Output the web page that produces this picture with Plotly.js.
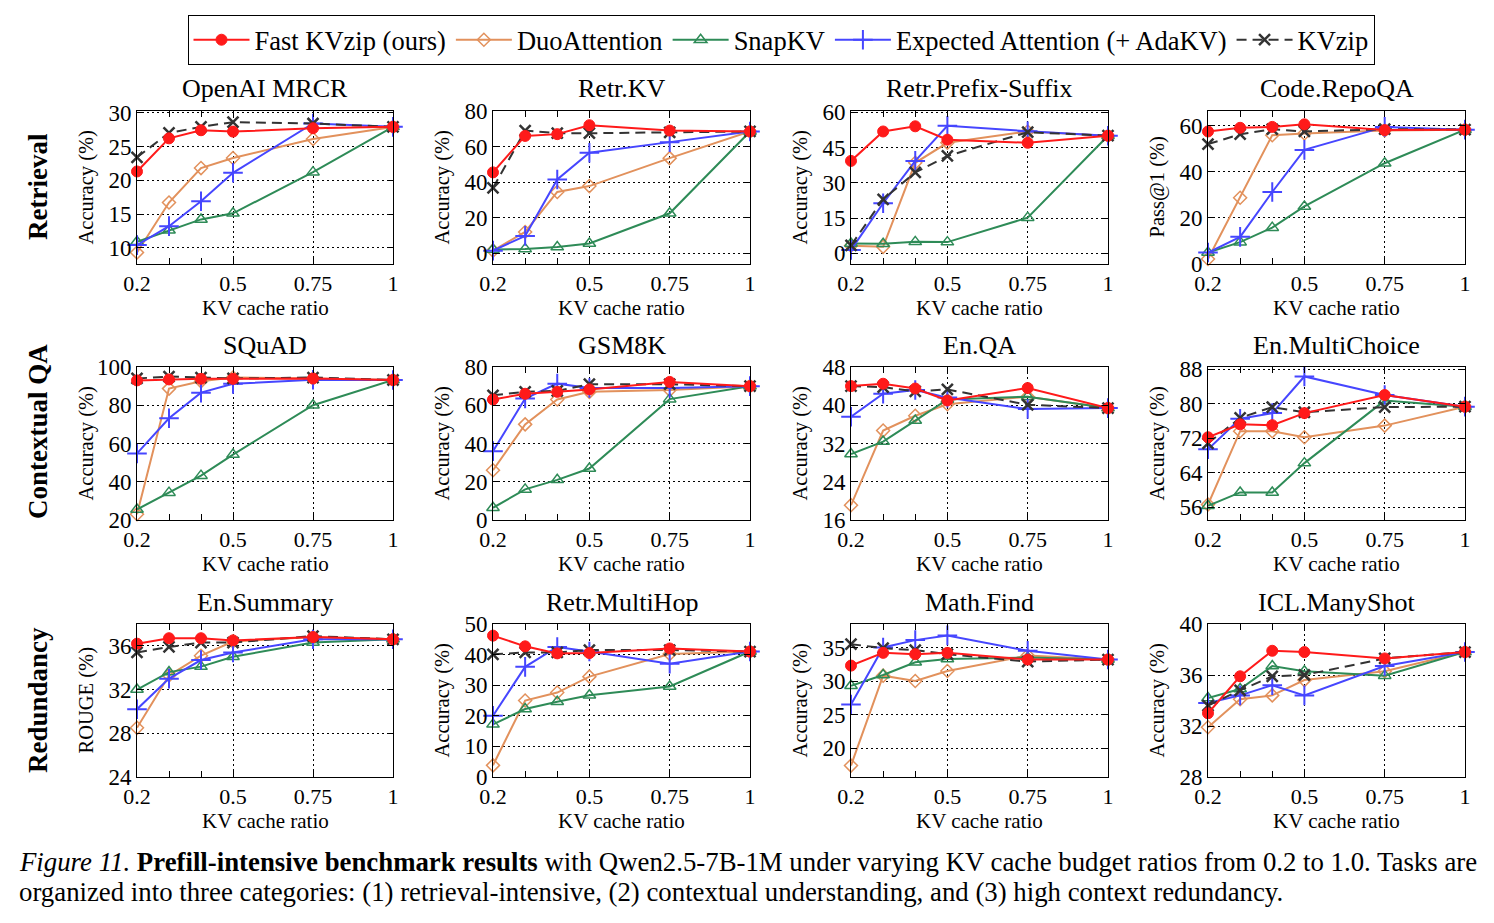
<!DOCTYPE html>
<html>
<head>
<meta charset="utf-8">
<script src="https://cdn.plot.ly/plotly-3.0.1.min.js"></script>
<style>html,body{margin:0;padding:0;background:#fff;}#chart{width:1494px;height:923px;}</style>
</head>
<body>
<div id="chart"></div>
<script>
// ---- data ----
const ratios = [0.2, 0.3, 0.4, 0.5, 0.75, 1];
const panelTitles = ["OpenAI MRCR", "Retr.KV", "Retr.Prefix-Suffix", "Code.RepoQA",
  "SQuAD", "GSM8K", "En.QA", "En.MultiChoice",
  "En.Summary", "Retr.MultiHop", "Math.Find", "ICL.ManyShot"];
const yTitles = ["Accuracy (%)", "Accuracy (%)", "Accuracy (%)", "Pass@1 (%)",
  "Accuracy (%)", "Accuracy (%)", "Accuracy (%)", "Accuracy (%)",
  "ROUGE (%)", "Accuracy (%)", "Accuracy (%)", "Accuracy (%)"];
const rowLabels = ["Retrieval", "Contextual QA", "Redundancy"];
const seriesNames = ["Fast KVzip (ours)", "DuoAttention", "SnapKV", "Expected Attention (+ AdaKV)", "KVzip"];

const fastKVzip = [
  [21.3, 26.2, 27.4, 27.2, 27.7, 27.9],
  [45.5, 66.0, 67.0, 72.0, 69.0, 68.5],
  [39.3, 51.8, 54.0, 48.3, 47.0, 50.0],
  [57.6, 59.2, 59.6, 60.7, 58.2, 58.4],
  [93.0, 93.5, 93.8, 93.8, 94.0, 93.2],
  [63.0, 66.0, 67.0, 68.3, 72.2, 70.0],
  [44.0, 44.5, 43.5, 41.0, 43.6, 39.4],
  [72.2, 75.2, 75.0, 77.8, 82.0, 79.3],
  [36.2, 36.7, 36.7, 36.5, 36.8, 36.6],
  [46.2, 42.7, 40.4, 40.5, 42.0, 41.0],
  [32.3, 34.2, 34.0, 34.2, 33.2, 33.2],
  [33.0, 35.9, 37.9, 37.8, 37.3, 37.8]
];
const duoAttention = [
  [9.3, 16.7, 21.8, 23.3, 26.1, 27.9],
  [1.5, 12.0, 34.5, 37.8, 53.5, 68.5],
  [3.3, 2.8, 38.5, 47.0, 51.8, 50.0],
  [2.2, 28.8, 56.0, 56.7, 58.0, 58.4],
  [23.0, 88.7, 92.5, 94.5, 94.0, 93.2],
  [26.0, 50.0, 63.0, 67.0, 68.0, 70.0],
  [19.1, 34.7, 37.8, 40.2, 41.8, 39.4],
  [56.6, 73.6, 73.6, 72.2, 74.9, 79.3],
  [28.5, 33.3, 35.1, 36.4, 36.8, 36.6],
  [3.8, 25.0, 27.6, 32.8, 40.2, 41.0],
  [17.4, 30.8, 30.0, 31.5, 33.8, 33.2],
  [31.9, 34.1, 34.4, 35.6, 36.3, 37.8]
];
const snapKV = [
  [10.9, 12.6, 14.2, 15.1, 21.2, 27.9],
  [2.2, 2.5, 3.5, 5.5, 22.5, 68.5],
  [4.2, 4.1, 4.9, 4.8, 15.2, 50.0],
  [5.0, 9.5, 15.8, 25.0, 43.8, 58.4],
  [25.5, 34.3, 43.2, 54.2, 80.0, 93.2],
  [6.4, 16.0, 21.0, 26.9, 63.2, 70.0],
  [29.8, 32.4, 36.8, 41.2, 41.8, 39.4],
  [56.3, 59.4, 59.4, 66.2, 80.7, 79.3],
  [32.0, 33.6, 34.1, 35.0, 36.3, 36.6],
  [17.2, 22.2, 24.6, 26.7, 29.6, 41.0],
  [29.3, 30.9, 32.8, 33.3, 33.5, 33.2],
  [34.2, 34.9, 36.7, 36.3, 35.95, 37.8]
];
const expectedAttention = [
  [10.4, 13.2, 16.9, 21.1, 28.4, 27.9],
  [1.5, 9.8, 41.5, 56.5, 62.5, 68.5],
  [1.5, 21.3, 39.3, 54.2, 51.9, 50.0],
  [5.0, 11.8, 31.3, 49.6, 59.6, 58.4],
  [54.8, 73.2, 86.6, 91.2, 93.3, 93.2],
  [36.0, 63.5, 71.3, 69.0, 69.0, 70.0],
  [37.6, 42.4, 43.2, 41.6, 39.2, 39.4],
  [69.4, 76.5, 77.8, 86.3, 82.0, 79.3],
  [30.2, 33.0, 34.7, 35.4, 36.6, 36.6],
  [20.0, 36.0, 42.5, 41.0, 37.0, 41.0],
  [26.5, 35.0, 36.1, 36.8, 34.5, 33.2],
  [33.8, 34.4, 35.2, 34.4, 36.7, 37.8]
];
const kvzip = [
  [23.4, 27.0, 27.9, 28.6, 28.4, 27.9],
  [36.8, 69.0, 67.5, 67.5, 68.0, 68.5],
  [3.4, 23.0, 34.4, 41.4, 51.5, 50.0],
  [52.1, 56.4, 58.6, 57.6, 58.6, 58.4],
  [94.0, 95.0, 94.5, 94.0, 94.5, 93.2],
  [65.2, 67.0, 67.5, 71.0, 71.0, 70.0],
  [44.0, 43.8, 42.9, 43.3, 40.1, 39.4],
  [70.8, 76.7, 79.2, 78.0, 79.2, 79.3],
  [35.4, 35.9, 36.3, 36.3, 36.9, 36.6],
  [40.1, 40.7, 40.7, 41.5, 41.5, 41.0],
  [35.5, 34.9, 34.6, 34.0, 32.9, 33.2],
  [33.6, 34.8, 35.9, 36.0, 37.3, 37.8]
];
const yTickVals = [
  [10, 15, 20, 25, 30], [0, 20, 40, 60, 80], [0, 15, 30, 45, 60], [0, 20, 40, 60],
  [20, 40, 60, 80, 100], [0, 20, 40, 60, 80], [16, 24, 32, 40, 48], [56, 64, 72, 80, 88],
  [24, 28, 32, 36], [0, 10, 20, 30, 40, 50], [20, 25, 30, 35], [28, 32, 36, 40]
];

// ---- layout / style ----
const W = 1494, H = 923;
const FONT = "Liberation Serif, Times New Roman, serif";
const yRanges = [
  [7.6, 30.25], [-6, 80], [-4.5, 60.5], [0, 66.5],
  [20, 100], [0, 80], [16, 48], [53, 88.5],
  [24, 38], [0, 50], [15.7, 38.5], [28, 40]
];
const colPx = [[137, 393], [493, 750], [851, 1108], [1208, 1465]];
const rowPx = [[111, 264], [367, 520], [624, 777]];
const px = v => v / W, py = v => 1 - v / H;
const GRIDDASH = "1.5px,3.5px";

const styles = [
  {data: fastKVzip, color: "#ff1a1a", symbol: "circle", size: 11, dash: "solid", rank: 1, lw: 1},
  {data: duoAttention, color: "#e2915c", symbol: "diamond-open", size: 10, dash: "solid", rank: 2, lw: 1.5},
  {data: snapKV, color: "#2e8b57", symbol: "triangle-up-open", size: 11, dash: "solid", rank: 3, lw: 1.5},
  {data: expectedAttention, color: "#4646ff", symbol: "cross-thin", size: 14, dash: "solid", rank: 4, lw: 2},
  {data: kvzip, color: "#333333", symbol: "x-thin", size: 11, dash: "10px,6px", rank: 5, lw: 2.5}
];
const drawOrder = [1, 2, 3, 4, 0];

const traces = [];
const layout = {
  width: W, height: H,
  margin: {l: 0, r: 0, t: 0, b: 0},
  paper_bgcolor: "#fff", plot_bgcolor: "#fff",
  font: {family: FONT, color: "#000", size: 20},
  showlegend: true,
  legend: {
    orientation: "h", x: 781 / W, xanchor: "center", y: py(15), yanchor: "top",
    bordercolor: "#000", borderwidth: 1, font: {family: FONT, size: 26.5, color: "#000"},
    itemwidth: 56, tracegroupgap: 0, bgcolor: "#fff"
  },
  annotations: []
};

for (let i = 0; i < 12; i++) {
  const r = Math.floor(i / 4), c = i % 4;
  const xa = "xaxis" + (i + 1), ya = "yaxis" + (i + 1);
  const xr = "x" + (i + 1), yr = "y" + (i + 1);
  layout[xa] = {
    domain: [px(colPx[c][0]), px(colPx[c][1])], anchor: yr, range: [0.2, 1],
    tickmode: "array", tickvals: [0.2, 0.5, 0.75, 1], ticktext: ["0.2", "0.5", "0.75", "1"],
    ticks: "inside", ticklen: 6, tickcolor: "#000", tickwidth: 1,
    minor: {tickmode: "array", tickvals: [0.3, 0.4], ticks: "inside", ticklen: 6, tickcolor: "#000", showgrid: false},
    showgrid: true, gridcolor: "#000", griddash: GRIDDASH, gridwidth: 1,
    showline: true, linecolor: "#000", linewidth: 1, mirror: "ticks", zeroline: false,
    tickfont: {family: FONT, size: 22}, fixedrange: true
  };
  layout[ya] = {
    domain: [py(rowPx[r][1]), py(rowPx[r][0])], anchor: xr, range: yRanges[i],
    tickmode: "array", tickvals: yTickVals[i],
    ticks: "inside", ticklen: 6, tickcolor: "#000", tickwidth: 1,
    showgrid: true, gridcolor: "#000", griddash: GRIDDASH, gridwidth: 1,
    showline: true, linecolor: "#000", linewidth: 1, mirror: "ticks", zeroline: false,
    tickfont: {family: FONT, size: 23}, fixedrange: true
  };
  drawOrder.forEach(k => {
    const s = styles[k];
    traces.push({
      type: "scatter", mode: "lines+markers", x: ratios, y: s.data[i],
      xaxis: xr, yaxis: yr, name: seriesNames[k], legendrank: s.rank,
      showlegend: i === 0, cliponaxis: false,
      line: {color: s.color, width: 2, dash: s.dash},
      marker: {symbol: s.symbol, size: s.size, color: s.color, line: {color: s.color, width: s.lw}},
      hoverinfo: "skip"
    });
  });
  const cx = (colPx[c][0] + colPx[c][1]) / 2;
  // panel title
  layout.annotations.push({text: panelTitles[i], xref: "paper", yref: "paper", x: px(cx), y: py(rowPx[r][0] - 22),
    xanchor: "center", yanchor: "middle", showarrow: false, font: {family: FONT, size: 26}});
  // x axis title
  layout.annotations.push({text: "KV cache ratio", xref: "paper", yref: "paper", x: px(cx), y: py(rowPx[r][1] + 44),
    xanchor: "center", yanchor: "middle", showarrow: false, font: {family: FONT, size: 21}});
  // y axis title
  layout.annotations.push({text: yTitles[i], xref: "paper", yref: "paper", x: px(colPx[c][0] - 51),
    y: py((rowPx[r][0] + rowPx[r][1]) / 2), xanchor: "center", yanchor: "middle", textangle: -90,
    showarrow: false, font: {family: FONT, size: 20.5}});
}
// row labels
const rowLabelY = [187, 432, 700];
rowLabels.forEach((t, r) => {
  layout.annotations.push({text: "<b>" + t + "</b>", xref: "paper", yref: "paper", x: px(38), y: py(rowLabelY[r]),
    xanchor: "center", yanchor: "middle", textangle: -90, showarrow: false, font: {family: FONT, size: 27}});
});
// caption
layout.annotations.push({text: "<i>Figure 11.</i> <b>Prefill-intensive benchmark results</b> with Qwen2.5-7B-1M under varying KV cache budget ratios from 0.2 to 1.0. Tasks are",
  xref: "paper", yref: "paper", x: px(17), y: py(862), xanchor: "left", yanchor: "middle", showarrow: false,
  font: {family: FONT, size: 26.8}});
layout.annotations.push({text: "organized into three categories: (1) retrieval-intensive, (2) contextual understanding, and (3) high context redundancy.",
  xref: "paper", yref: "paper", x: px(17), y: py(892), xanchor: "left", yanchor: "middle", showarrow: false,
  font: {family: FONT, size: 26.8}});

Plotly.newPlot("chart", traces, layout, {displayModeBar: false, staticPlot: true});
</script>
</body>
</html>
